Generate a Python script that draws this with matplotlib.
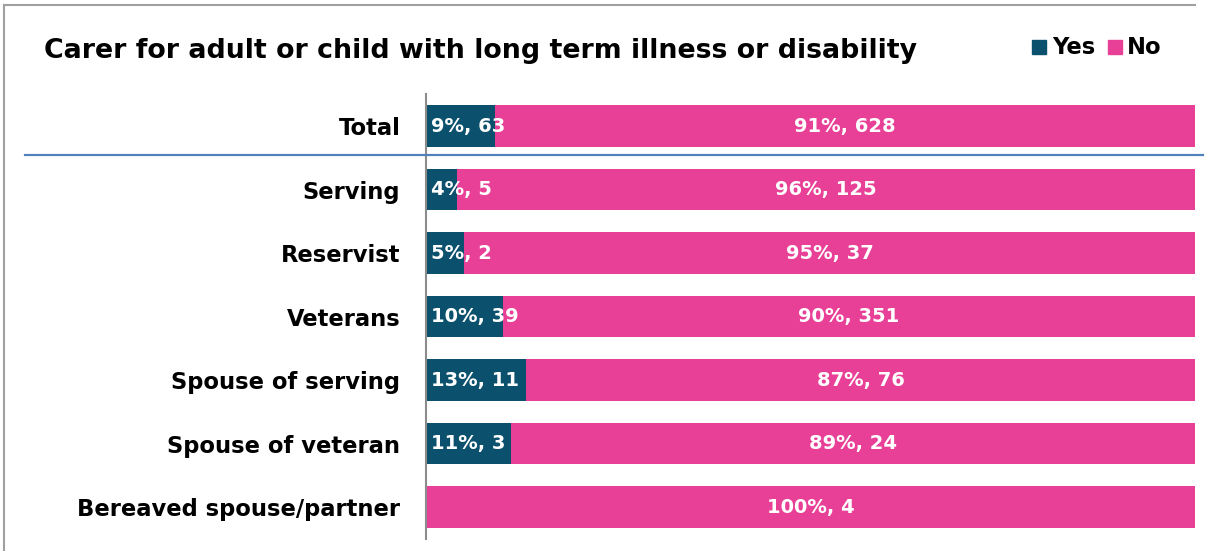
import numpy as np
import matplotlib.pyplot as plt
from matplotlib.lines import Line2D
from matplotlib.patches import Rectangle

# ---------------------------------------------------------------
# Data
# ---------------------------------------------------------------
groups = ["Total", "Serving", "Reservist", "Veterans",
          "Spouse of serving", "Spouse of veteran", "Bereaved spouse/partner"]
yes_pct = [9, 4, 5, 10, 13, 11, 0]
no_pct = [91, 96, 95, 90, 87, 89, 100]
yes_n = [63, 5, 2, 39, 11, 3, 0]
no_n = [628, 125, 37, 351, 76, 24, 4]

c_yes = "#0b506c"
c_no = "#e84096"
font = "DejaVu Sans"

# ---------------------------------------------------------------
# Plot
# ---------------------------------------------------------------
W, H = 1208, 551
fig = plt.figure(figsize=(W / 100, H / 100), dpi=100)
ax = fig.add_axes([426 / W, 1 - 538.75 / H, (1195 - 426) / W, 444.5 / H])

y = np.arange(len(groups))
ax.barh(y, yes_pct, height=0.66, color=c_yes)
ax.barh(y, no_pct, left=yes_pct, height=0.66, color=c_no)

for i in range(len(groups)):
    if yes_pct[i] > 0:
        ax.text(0.7, y[i], f"{yes_pct[i]}%, {yes_n[i]}", color="white",
                fontsize=14, fontweight="bold", va="center", ha="left", family=font)
    ax.text(yes_pct[i] + no_pct[i] / 2, y[i], f"{no_pct[i]}%, {no_n[i]}", color="white",
            fontsize=14, fontweight="bold", va="center", ha="center", family=font)

ax.set_xlim(0, 100)
ax.set_ylim(len(groups) - 0.5, -0.5)
ax.set_yticks(y)
ax.set_yticklabels(groups, fontsize=16.3, fontweight="bold", family=font)
ax.tick_params(axis="y", length=0, pad=18.5)
ax.set_xticks([])
for s in ["top", "right", "bottom"]:
    ax.spines[s].set_visible(False)
ax.spines["left"].set_color("#8c8c8c")
ax.spines["left"].set_linewidth(1.5)

# separator under Total
fig.add_artist(Line2D([25 / W, 1203 / W], [1 - 155 / H, 1 - 155 / H],
                      color="#4f81bd", lw=1.6, transform=fig.transFigure))

# outer frame (top and left edges)
fig.add_artist(Line2D([4 / W, 1195 / W], [1 - 5 / H, 1 - 5 / H],
                      color="#a0a0a0", lw=1.5, transform=fig.transFigure))
fig.add_artist(Line2D([4 / W, 4 / W], [0, 1 - 5 / H],
                      color="#a0a0a0", lw=1.5, transform=fig.transFigure))

fig.text(44 / W, 1 - 51 / H, "Carer for adult or child with long term illness or disability",
         fontsize=19.3, fontweight="bold", va="center", ha="left", family=font)

# legend
ly = 1 - 47 / H
fig.add_artist(Rectangle((1032 / W, 1 - 54 / H), 14 / W, 14 / H, color=c_yes,
                         transform=fig.transFigure))
fig.text(1052 / W, ly, "Yes", fontsize=16.3, fontweight="bold", va="center", ha="left", family=font)
fig.add_artist(Rectangle((1108 / W, 1 - 54 / H), 14 / W, 14 / H, color=c_no,
                         transform=fig.transFigure))
fig.text(1127 / W, ly, "No", fontsize=16.3, fontweight="bold", va="center", ha="left", family=font)

fig.savefig("out.png", dpi=100)
